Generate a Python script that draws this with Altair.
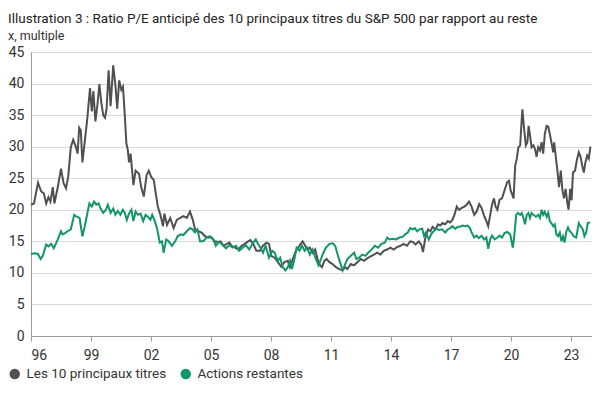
import altair as alt
import pandas as pd

TITLE = "Illustration 3 : Ratio P/E anticipé des 10 principaux titres du S&P 500 par rapport au reste"
SUBTITLE = "x, multiple"
SERIES = ["Les 10 principaux titres", "Actions restantes"]
COLORS = ["#505052", "#12956a"]
X_TICKS = [1996, 1999, 2002, 2005, 2008, 2011, 2014, 2017, 2020, 2023]
Y_TICKS = [0, 5, 10, 15, 20, 25, 30, 35, 40, 45]

top10_t = [
    1996.00, 1996.15, 1996.35, 1996.51, 1996.64, 1996.76, 1996.87, 1996.97, 1997.09, 1997.17,
    1997.34, 1997.50, 1997.63, 1997.75, 1997.86, 1997.99, 1998.11, 1998.24, 1998.33, 1998.41,
    1998.49, 1998.57, 1998.66, 1998.82, 1998.95, 1999.04, 1999.12, 1999.22, 1999.32, 1999.42,
    1999.51, 1999.61, 1999.70, 1999.78, 1999.88, 1999.98, 2000.11, 2000.23, 2000.31, 2000.41,
    2000.52, 2000.60, 2000.67, 2000.77, 2000.84, 2000.90, 2000.98, 2001.12, 2001.23, 2001.40,
    2001.51, 2001.64, 2001.78, 2001.89, 2002.01, 2002.14, 2002.22, 2002.34, 2002.47, 2002.60,
    2002.67, 2002.80, 2002.96, 2003.13, 2003.29, 2003.46, 2003.62, 2003.79, 2003.95, 2004.09,
    2004.20, 2004.37, 2004.53, 2004.70, 2004.86, 2005.03, 2005.19, 2005.36, 2005.48, 2005.62,
    2005.79, 2005.92, 2006.03, 2006.20, 2006.36, 2006.53, 2006.69, 2006.86, 2006.97, 2007.11,
    2007.27, 2007.44, 2007.60, 2007.77, 2007.90, 2008.01, 2008.18, 2008.34, 2008.51, 2008.67,
    2008.84, 2008.95, 2009.09, 2009.25, 2009.42, 2009.58, 2009.71, 2009.83, 2009.94, 2010.08,
    2010.21, 2010.30, 2010.40, 2010.55, 2010.67, 2010.78, 2010.92, 2011.08, 2011.25, 2011.41,
    2011.58, 2011.71, 2011.82, 2011.99, 2012.15, 2012.32, 2012.49, 2012.65, 2012.81, 2012.98,
    2013.15, 2013.31, 2013.47, 2013.64, 2013.80, 2013.97, 2014.14, 2014.30, 2014.47, 2014.63,
    2014.80, 2014.96, 2015.09, 2015.23, 2015.39, 2015.52, 2015.60, 2015.72, 2015.85, 2015.97,
    2016.08, 2016.22, 2016.35, 2016.46, 2016.58, 2016.71, 2016.84, 2016.96, 2017.07, 2017.17,
    2017.29, 2017.40, 2017.54, 2017.67, 2017.78, 2017.90, 2018.03, 2018.16, 2018.28, 2018.41,
    2018.53, 2018.66, 2018.77, 2018.86, 2018.95, 2019.05, 2019.15, 2019.23, 2019.32, 2019.43,
    2019.55, 2019.68, 2019.81, 2019.90, 2019.98, 2020.04, 2020.13, 2020.21, 2020.29, 2020.37,
    2020.46, 2020.51, 2020.57, 2020.65, 2020.74, 2020.82, 2020.88, 2020.95, 2021.03, 2021.12,
    2021.20, 2021.28, 2021.36, 2021.45, 2021.53, 2021.61, 2021.69, 2021.78, 2021.86, 2021.94,
    2022.02, 2022.11, 2022.16, 2022.24, 2022.32, 2022.40, 2022.49, 2022.57, 2022.65, 2022.73,
    2022.82, 2022.88, 2022.96, 2023.03, 2023.10, 2023.20, 2023.29, 2023.39, 2023.48, 2023.56,
    2023.64, 2023.72, 2023.81, 2023.89, 2023.97,
]
top10_v = [
    20.8, 21.0, 24.3, 22.9, 22.6, 21.0, 22.0, 21.3, 23.6, 21.0,
    23.6, 26.5, 24.2, 23.4, 25.2, 29.9, 31.1, 30.0, 28.9, 33.0,
    32.6, 27.5, 30.0, 34.6, 39.3, 35.6, 38.8, 34.0, 36.6, 39.9,
    37.1, 35.0, 34.6, 36.0, 42.1, 36.4, 42.9, 39.4, 36.0, 40.5,
    39.0, 39.5, 36.0, 30.5, 29.5, 27.5, 28.9, 23.9, 26.2, 25.7,
    23.6, 22.1, 25.5, 26.2, 25.2, 24.7, 23.0, 20.5, 19.2, 17.4,
    19.4, 17.6, 18.7, 17.1, 18.4, 18.7, 19.0, 18.7, 19.7, 18.4,
    16.9, 16.6, 16.4, 15.8, 15.6, 15.6, 15.0, 14.9, 15.0, 14.3,
    14.6, 14.8, 14.3, 14.0, 13.7, 14.3, 14.6, 15.0, 15.2, 14.6,
    13.5, 13.5, 14.3, 14.8, 14.6, 12.7, 12.4, 11.7, 11.0, 11.7,
    11.9, 10.9, 12.2, 13.5, 14.3, 15.0, 14.3, 13.7, 14.0, 13.2,
    13.7, 12.5, 11.4, 10.9, 11.9, 12.2, 11.7, 11.4, 10.9, 10.6,
    10.4, 10.9, 10.6, 11.4, 11.2, 11.7, 12.2, 11.9, 12.3, 12.6,
    12.9, 13.2, 12.9, 13.5, 13.7, 14.0, 13.7, 14.1, 14.3, 14.6,
    14.3, 15.0, 14.9, 14.5, 15.0, 14.4, 13.3, 15.6, 16.9, 16.6,
    17.3, 16.9, 17.7, 17.5, 17.9, 17.7, 18.2, 18.0, 18.4, 19.2,
    20.5, 20.0, 20.3, 20.5, 20.8, 21.3, 20.5, 19.2, 19.7, 20.9,
    20.3, 19.0, 18.2, 17.4, 19.0, 20.8, 21.8, 20.5, 20.0, 21.6,
    21.8, 23.1, 24.4, 24.6, 23.1, 22.6, 21.8, 27.0, 28.1, 29.9,
    30.2, 33.0, 35.9, 33.0, 30.2, 30.7, 33.3, 31.8, 29.9, 30.2,
    29.6, 28.4, 29.9, 29.4, 30.7, 28.9, 32.0, 33.3, 33.2, 32.0,
    30.7, 29.1, 30.7, 28.4, 26.2, 23.6, 26.2, 23.1, 21.8, 23.3,
    21.0, 20.0, 23.3, 21.5, 25.9, 26.2, 27.8, 29.1, 28.4, 27.0,
    25.9, 27.5, 28.6, 28.1, 30.0,
]

rest_t = [
    1996.00, 1996.18, 1996.35, 1996.48, 1996.59, 1996.76, 1996.87, 1997.01, 1997.14, 1997.34,
    1997.50, 1997.58, 1997.70, 1997.83, 1997.99, 1998.16, 1998.29, 1998.43, 1998.57, 1998.69,
    1998.82, 1998.92, 1999.04, 1999.15, 1999.27, 1999.38, 1999.48, 1999.61, 1999.75, 1999.84,
    1999.98, 2000.11, 2000.22, 2000.34, 2000.47, 2000.59, 2000.69, 2000.79, 2000.90, 2001.02,
    2001.12, 2001.23, 2001.35, 2001.48, 2001.61, 2001.73, 2001.84, 2001.97, 2002.06, 2002.17,
    2002.30, 2002.44, 2002.55, 2002.63, 2002.76, 2002.88, 2003.05, 2003.21, 2003.33, 2003.49,
    2003.62, 2003.79, 2003.95, 2004.07, 2004.20, 2004.32, 2004.45, 2004.61, 2004.78, 2004.94,
    2005.11, 2005.24, 2005.36, 2005.46, 2005.62, 2005.75, 2005.92, 2006.08, 2006.25, 2006.41,
    2006.58, 2006.74, 2006.91, 2007.07, 2007.24, 2007.35, 2007.47, 2007.60, 2007.73, 2007.90,
    2008.06, 2008.18, 2008.34, 2008.46, 2008.59, 2008.72, 2008.84, 2008.95, 2009.05, 2009.17,
    2009.28, 2009.42, 2009.55, 2009.68, 2009.80, 2009.94, 2010.08, 2010.24, 2010.38, 2010.50,
    2010.62, 2010.75, 2010.92, 2011.08, 2011.21, 2011.33, 2011.45, 2011.58, 2011.71, 2011.82,
    2011.99, 2012.16, 2012.27, 2012.40, 2012.57, 2012.73, 2012.86, 2013.03, 2013.19, 2013.36,
    2013.52, 2013.69, 2013.81, 2013.92, 2014.09, 2014.25, 2014.42, 2014.58, 2014.71, 2014.84,
    2014.96, 2015.08, 2015.19, 2015.31, 2015.42, 2015.56, 2015.65, 2015.75, 2015.89, 2016.02,
    2016.13, 2016.25, 2016.38, 2016.55, 2016.71, 2016.84, 2016.96, 2017.07, 2017.21, 2017.34,
    2017.45, 2017.57, 2017.70, 2017.83, 2017.95, 2018.03, 2018.16, 2018.28, 2018.39, 2018.53,
    2018.66, 2018.77, 2018.86, 2018.96, 2019.05, 2019.19, 2019.32, 2019.43, 2019.55, 2019.68,
    2019.81, 2019.96, 2020.09, 2020.16, 2020.26, 2020.34, 2020.46, 2020.54, 2020.62, 2020.70,
    2020.79, 2020.87, 2020.95, 2021.03, 2021.12, 2021.25, 2021.36, 2021.45, 2021.53, 2021.61,
    2021.69, 2021.78, 2021.86, 2021.94, 2022.02, 2022.11, 2022.19, 2022.27, 2022.35, 2022.44,
    2022.52, 2022.60, 2022.68, 2022.77, 2022.85, 2022.93, 2023.01, 2023.13, 2023.26, 2023.39,
    2023.48, 2023.59, 2023.67, 2023.76, 2023.84, 2023.95,
]
rest_v = [
    13.0, 13.1, 13.0, 12.2, 12.7, 14.5, 14.2, 14.6, 13.9, 15.3,
    16.6, 16.1, 16.3, 16.6, 16.9, 19.2, 18.9, 18.7, 15.8, 17.4,
    19.5, 21.0, 20.5, 21.3, 20.8, 21.0, 20.2, 19.5, 20.0, 20.8,
    19.5, 20.2, 19.2, 19.8, 19.2, 20.0, 19.5, 18.4, 19.4, 20.0,
    18.2, 19.7, 19.2, 19.4, 18.2, 19.2, 18.9, 18.4, 19.2, 18.4,
    17.1, 14.8, 15.0, 13.2, 15.3, 15.0, 14.3, 15.0, 15.8, 16.1,
    16.0, 16.6, 17.1, 16.9, 16.4, 16.9, 15.0, 15.0, 15.6, 15.8,
    15.3, 14.3, 14.8, 14.8, 14.3, 13.9, 14.4, 14.0, 14.3, 13.5,
    14.0, 14.4, 13.7, 14.6, 15.3, 14.6, 14.0, 13.2, 14.3, 12.4,
    13.5, 13.2, 11.9, 12.4, 10.9, 10.4, 10.9, 11.9, 10.6, 12.2,
    14.0, 13.5, 14.3, 13.5, 14.0, 12.9, 13.7, 12.2, 11.2, 12.2,
    13.2, 14.0, 14.6, 14.7, 14.3, 12.9, 11.7, 10.4, 11.4, 12.2,
    12.7, 13.2, 12.2, 12.4, 12.9, 12.7, 13.2, 13.7, 14.3, 14.0,
    14.6, 14.8, 15.6, 15.3, 15.4, 15.3, 15.6, 15.7, 16.1, 16.4,
    17.1, 16.9, 17.1, 16.6, 16.9, 17.0, 15.9, 16.4, 15.3, 16.2,
    16.6, 17.0, 16.8, 16.9, 16.4, 16.9, 17.1, 17.4, 17.0, 17.3,
    17.3, 17.5, 17.4, 17.5, 17.1, 16.4, 15.6, 15.9, 15.5, 15.9,
    15.3, 15.6, 13.8, 15.3, 15.9, 15.3, 15.6, 15.9, 15.6, 16.3,
    16.5, 16.1, 14.0, 15.8, 19.2, 19.5, 19.2, 19.5, 18.7, 17.7,
    19.2, 19.5, 18.7, 19.5, 19.2, 18.9, 19.2, 18.7, 20.0, 19.2,
    19.7, 18.9, 19.5, 18.2, 17.9, 17.4, 17.7, 16.1, 15.8, 16.4,
    15.0, 15.8, 14.8, 16.6, 17.2, 16.6, 16.4, 15.8, 15.6, 17.9,
    17.4, 16.9, 15.8, 16.4, 17.9, 18.0,
]

df_top = pd.DataFrame({"t": top10_t, "v": top10_v, "s": SERIES[0]})
df_rest = pd.DataFrame({"t": rest_t, "v": rest_v, "s": SERIES[1]})

FONT = "Roboto"

color = alt.Color(
    "s:N",
    scale=alt.Scale(domain=SERIES, range=COLORS),
    legend=alt.Legend(
        orient="none",
        legendX=-23,
        legendY=315,
        direction="horizontal",
        title=None,
        symbolType="circle",
        symbolSize=30,
        symbolStrokeWidth=5,
        labelFont=FONT,
        labelFontSize=13.5,
        labelColor="#333333",
        labelOffset=5,
        columnPadding=6,
        padding=0,
    ),
)
x = alt.X(
    "t:Q",
    scale=alt.Scale(domain=[1996, 2024.05], nice=False, zero=False),
    axis=alt.Axis(
        values=X_TICKS,
        labelExpr="substring(toString(datum.value), 2, 4)",
        grid=False,
        title=None,
        tickSize=5,
        tickColor="#9a9a9a",
        domainColor="#9a9a9a",
        labelPadding=7,
        labelFont=FONT,
        labelFontSize=14,
        labelColor="#333333",
    ),
)
y = alt.Y(
    "v:Q",
    scale=alt.Scale(domain=[0, 45], nice=False),
    axis=alt.Axis(
        values=Y_TICKS,
        ticks=False,
        grid=True,
        gridColor="#d9d9d9",
        domainColor="#9a9a9a",
        title=None,
        labelPadding=7,
        labelFont=FONT,
        labelFontSize=14,
        labelColor="#333333",
    ),
)

line_top = alt.Chart(df_top).mark_line(strokeWidth=2).encode(x=x, y=y, color=color)
line_rest = alt.Chart(df_rest).mark_line(strokeWidth=2).encode(x=x, y=y, color=color)

chart = (
    alt.layer(line_top, line_rest)
    .properties(
        width=561,
        height=284,
        padding={"left": 23, "top": 44, "right": 0, "bottom": 48},
        autosize=alt.AutoSizeParams(type="none"),
        title=alt.TitleParams(
            text=TITLE,
            subtitle=SUBTITLE,
            anchor="start",
            frame="group",
            dx=-23,
            offset=3,
            font=FONT,
            fontSize=13.5,
            fontWeight="normal",
            color="#222222",
            subtitleFont=FONT,
            subtitleFontSize=12.5,
            subtitleColor="#333333",
            subtitlePadding=4,
        ),
    )
    .configure_view(stroke=None)
)

chart.save("out.html", embed_options={"renderer": "svg", "actions": False})
